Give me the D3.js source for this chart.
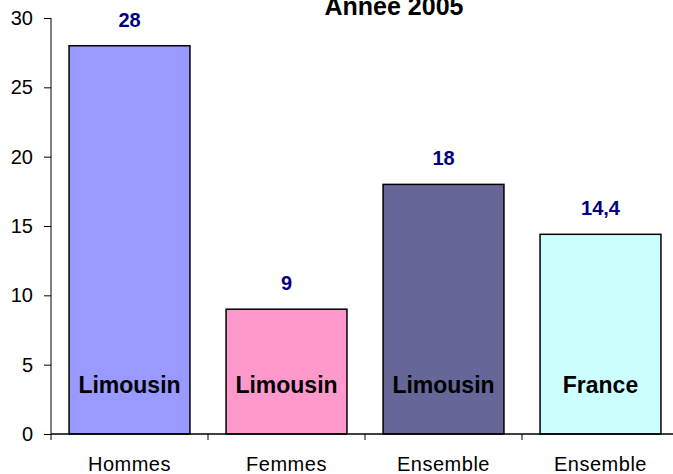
<!DOCTYPE html>
<html>
<head>
<meta charset="utf-8">
<script src="https://cdn.jsdelivr.net/npm/d3@7"></script>
<style>
  body { margin: 0; background: #fff; }
  text { font-family: "Liberation Sans", Arial, sans-serif; }
</style>
</head>
<body>
<div id="chart"></div>
<script>
/* chart data */
var categories = ["Hommes", "Femmes", "Ensemble", "Ensemble"];
var regions = ["Limousin", "Limousin", "Limousin", "France"];
var values = [28, 9, 18, 14.4];
var valueLabels = ["28", "9", "18", "14,4"];
var colors = ["#9999ff", "#ff99cc", "#666699", "#ccffff"];
var yTicks = [0, 5, 10, 15, 20, 25, 30];

/* size */
var width = 673, height = 474;
var x0 = 51, x1 = 679;   // axis runs off the right edge
var yTop = 18, yBottom = 434;

var svg = d3.select("#chart").append("svg")
    .attr("width", width)
    .attr("height", height);

var x = d3.scaleBand()
    .domain(d3.range(categories.length))
    .range([x0, x1])
    .paddingInner(0.23)
    .paddingOuter(0.115);

var y = d3.scaleLinear()
    .domain([0, 30])
    .range([yBottom, yTop]);

/* title, cut off at top */
svg.append("text")
    .attr("x", 394)
    .attr("y", 15)
    .attr("text-anchor", "middle")
    .style("font-size", "25px")
    .style("font-weight", "bold")
    .text("Année 2005");

/* bars */
svg.selectAll("rect.bar")
    .data(values)
    .enter().append("rect")
    .attr("class", "bar")
    .attr("x", function(d, i) { return x(i); })
    .attr("y", function(d) { return y(d); })
    .attr("width", x.bandwidth())
    .attr("height", function(d) { return y(0) - y(d); })
    .style("fill", function(d, i) { return colors[i]; })
    .style("stroke", "#000")
    .style("stroke-width", 1.5);

/* value labels */
svg.selectAll("text.val")
    .data(values)
    .enter().append("text")
    .attr("class", "val")
    .attr("x", function(d, i) { return x(i) + x.bandwidth() / 2; })
    .attr("y", function(d) { return y(d) - 19; })
    .attr("text-anchor", "middle")
    .style("font-size", "20px")
    .style("font-weight", "bold")
    .style("fill", "#000080")
    .text(function(d, i) { return valueLabels[i]; });

/* region labels inside bars */
svg.selectAll("text.reg")
    .data(regions)
    .enter().append("text")
    .attr("class", "reg")
    .attr("x", function(d, i) { return x(i) + x.bandwidth() / 2; })
    .attr("y", 393)
    .attr("text-anchor", "middle")
    .style("font-size", "23px")
    .style("font-weight", "bold")
    .text(function(d) { return d; });

/* y axis */
var yAxis = svg.append("g")
    .attr("transform", "translate(" + x0 + ",0)")
    .call(d3.axisLeft(y).tickValues(yTicks).tickSize(7).tickSizeOuter(0).tickPadding(11));
yAxis.select(".domain").attr("d", "M0," + yTop + "V" + yBottom);
yAxis.selectAll("text").style("font-size", "20px").style("fill", "#000")
    .style("font-family", "'Liberation Sans', Arial, sans-serif");

/* x axis */
var step = x.step();
var xAxis = svg.append("g").attr("transform", "translate(0," + yBottom + ")");
xAxis.append("line")
    .attr("x1", x0).attr("x2", x1)
    .style("stroke", "#000").style("stroke-width", 1.5);
xAxis.selectAll("line.tick")
    .data(d3.range(categories.length + 1))
    .enter().append("line")
    .attr("class", "tick")
    .attr("x1", function(i) { return x0 + i * step; })
    .attr("x2", function(i) { return x0 + i * step; })
    .attr("y1", 0).attr("y2", 6)
    .style("stroke", "#000");
xAxis.selectAll("text")
    .data(categories)
    .enter().append("text")
    .attr("x", function(d, i) { return x(i) + x.bandwidth() / 2; })
    .attr("y", 37)
    .attr("text-anchor", "middle")
    .style("font-size", "20px")
    .style("letter-spacing", "0.5px")
    .text(function(d) { return d; });
</script>
</body>
</html>
